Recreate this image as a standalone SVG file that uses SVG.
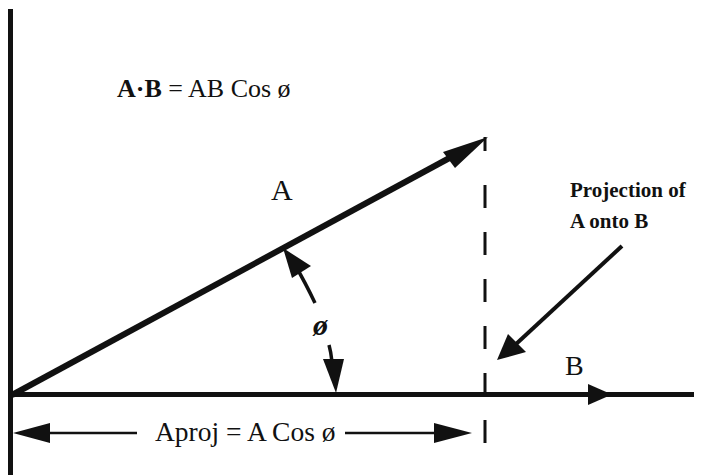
<svg xmlns="http://www.w3.org/2000/svg" width="728" height="475" viewBox="0 0 728 475">
<style>
.t{font-family:"Liberation Serif","Times New Roman",serif;fill:#111}
.ln{stroke:#111;fill:none;stroke-linecap:butt}
.hd{fill:#111}
</style>
<rect width="728" height="475" fill="#fff"/>
<g id="connectors">
<line class="ln" x1="10.5" y1="9" x2="10.5" y2="475" stroke-width="5"/>
<line class="ln" x1="10" y1="394.5" x2="694" y2="394.5" stroke-width="5"/>
<polygon class="hd" points="612,394.5 588,384 588,405"/>
<line class="ln" x1="12" y1="395" x2="455" y2="155" stroke-width="6"/>
<polygon class="hd" points="488,137 443,152 455,168"/>
<line class="ln" x1="485" y1="137" x2="485" y2="151" stroke-width="3"/>
<line class="ln" x1="485" y1="185" x2="485" y2="443" stroke-width="3" stroke-dasharray="23 24"/>
<line class="ln" x1="622" y1="246" x2="515" y2="345" stroke-width="4"/>
<polygon class="hd" points="497,360 508,334 526,352"/>
<path class="ln" d="M315,303 Q305,282 295,265" stroke-width="3.5"/>
<polygon class="hd" points="283,248 311,266 292,278"/>
<path class="ln" d="M329,345 Q331,352 332,362" stroke-width="3.5"/>
<polygon class="hd" points="336,393 323,359 344,359"/>
<line class="ln" x1="48" y1="433" x2="137" y2="433" stroke-width="2.5"/>
<polygon class="hd" points="13,433 50,423 50,443"/>
<line class="ln" x1="345" y1="433" x2="436" y2="433" stroke-width="2.5"/>
<polygon class="hd" points="472,433 434,423 434,443"/>
</g>
<g id="formula"><text class="t" x="117" y="97" font-size="26"><tspan font-weight="bold">A·B</tspan> = AB Cos ø</text></g>
<g id="labelA"><text class="t" x="271" y="200" font-size="30">A</text></g>
<g id="labelB"><text class="t" x="565" y="375" font-size="28">B</text></g>
<g id="phi"><text class="t" x="313" y="335" font-size="30" font-weight="bold" font-style="italic">ø</text></g>
<g id="projection"><text class="t" x="570" y="197" font-size="21" font-weight="bold">Projection of</text><text class="t" x="570" y="228" font-size="21" font-weight="bold">A onto B</text></g>
<g id="aproj"><text class="t" x="155" y="441" font-size="27.5">Aproj = A Cos ø</text></g>
</svg>
